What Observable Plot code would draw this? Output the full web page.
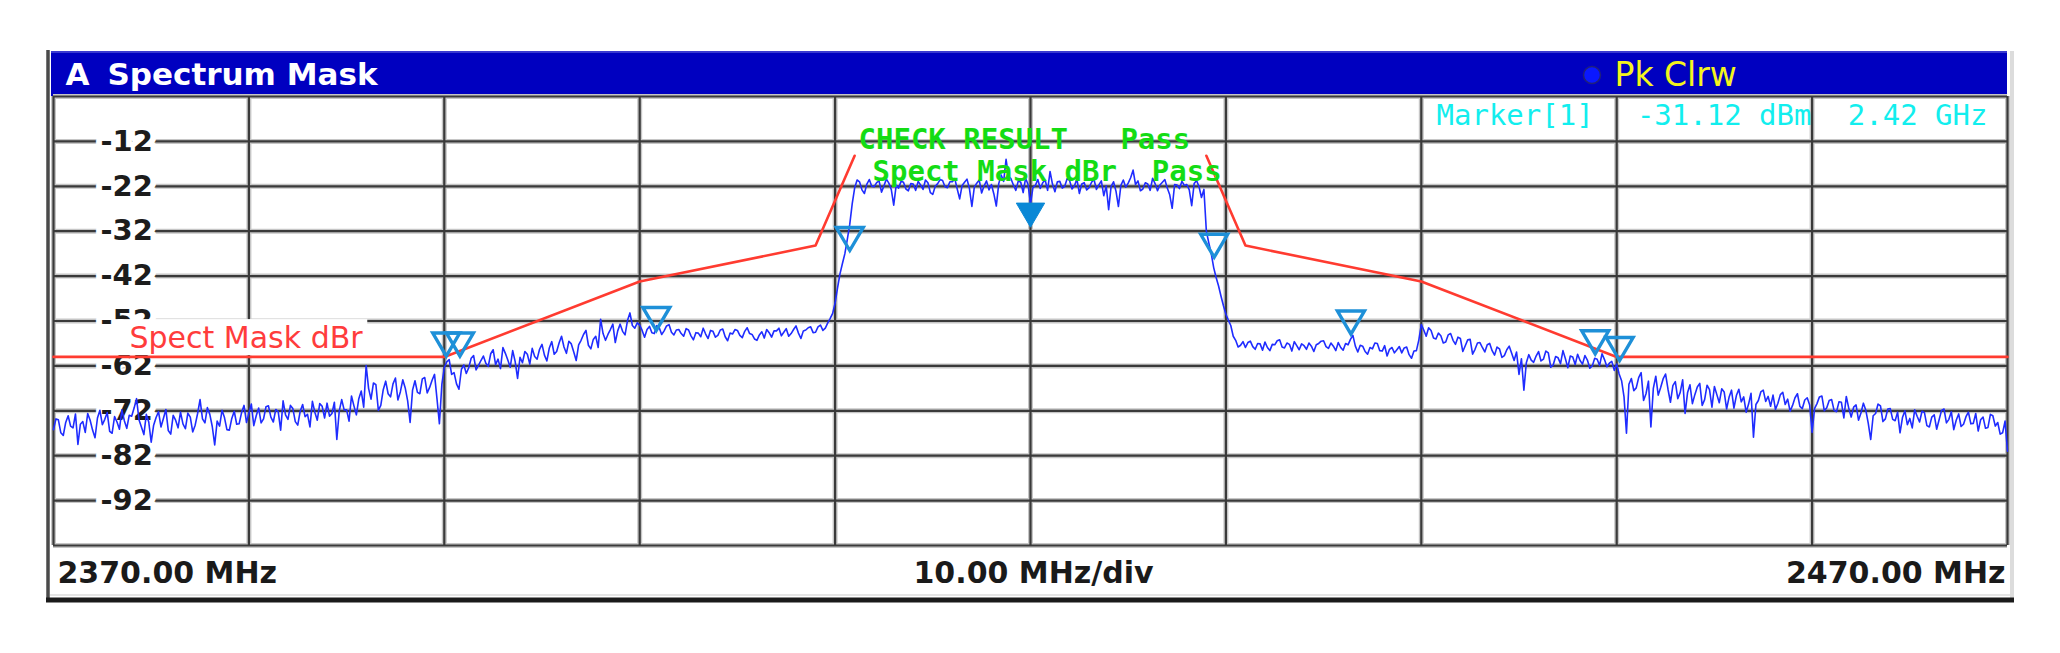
<!DOCTYPE html>
<html>
<head>
<meta charset="utf-8">
<script src="https://cdn.jsdelivr.net/npm/d3@7"></script>
<script src="https://cdn.jsdelivr.net/npm/@observablehq/plot@0.6"></script>
<style>
  html, body { margin: 0; padding: 0; background: #ffffff; }
  #chart { width: 2060px; height: 653px; }
</style>
</head>
<body>
<div id="chart"></div>
<script>
// ---------------- DATA ----------------
const sweepStartMHz = 2370;
const sweepStepMHz = 0.125;

// Trace levels (dBm), one per sweep point (8 per MHz)
const traceLevels = [
  -76.2, -73.8, -74.0, -76.9, -77.5, -74.6, -73.1, -75.4,
  -75.8, -72.7, -79.5, -75.0, -74.4, -76.8, -72.6, -74.1,
  -76.3, -78.0, -73.6, -71.9, -75.1, -73.9, -72.4, -76.6,
  -77.0, -73.3, -74.5, -76.1, -71.8, -74.2, -75.9, -73.0,
  -73.2, -71.4, -69.3, -74.0, -75.6, -77.3, -72.8, -74.5,
  -79.0, -75.2, -73.5, -72.2, -75.6, -73.7, -71.7, -76.4,
  -77.2, -73.0, -74.1, -75.8, -72.3, -74.9, -76.0, -72.5,
  -73.4, -76.7, -75.2, -72.6, -69.5, -73.8, -74.7, -71.3,
  -72.8, -75.5, -79.6, -74.3, -75.4, -71.9, -73.5, -76.2,
  -76.3, -73.7, -72.1, -75.0, -74.9, -72.4, -70.8, -74.6,
  -72.6, -70.5, -75.3, -73.1, -71.4, -74.7, -73.8, -71.1,
  -70.9, -73.4, -74.5, -71.7, -72.2, -76.3, -69.8, -72.9,
  -73.9, -70.8, -71.5, -74.4, -75.2, -72.1, -70.6, -73.3,
  -72.8, -75.6, -69.9, -72.3, -74.1, -70.4, -71.0, -73.6,
  -70.3, -73.2, -72.6, -70.1, -78.4, -72.0, -69.5, -71.8,
  -71.8, -74.3, -68.7, -70.9, -72.9, -69.3, -67.6, -71.2,
  -61.9, -67.0, -69.4, -65.8, -66.2, -71.9, -70.8, -67.3,
  -65.4, -68.2, -68.9, -66.0, -64.7, -69.6, -67.8, -65.1,
  -66.9, -69.8, -74.6, -67.4, -65.3, -67.9, -68.2, -64.9,
  -64.6, -68.0, -66.8, -65.2, -63.9, -69.3, -74.9, -66.1,
  -62.4, -61.1, -60.6, -63.9, -63.5, -66.0, -67.2, -62.8,
  -61.8, -63.7, -62.4, -60.3, -59.7, -62.9, -61.9, -60.8,
  -59.8, -61.4, -62.1, -59.3, -58.4, -61.7, -60.5, -62.6,
  -57.9, -59.2, -60.7, -62.3, -58.6, -61.0, -64.8, -60.1,
  -61.3, -58.8, -59.4, -61.6, -58.1, -59.9, -60.5, -58.3,
  -57.2, -59.6, -60.9, -58.0, -56.6, -59.4, -58.8, -56.9,
  -55.4, -57.8, -59.2, -56.5, -57.1, -58.9, -60.8, -57.3,
  -56.3, -55.0, -54.1, -57.4, -58.2, -56.1, -55.4, -57.9,
  -51.6, -54.8, -56.3, -55.0, -53.9, -52.7, -56.8, -54.2,
  -52.7, -54.3, -55.1, -51.9, -50.2, -53.0, -53.6, -52.4,
  -52.9, -54.1, -55.6, -53.9, -53.2, -54.6, -54.8, -53.0,
  -53.5, -55.0, -54.2, -53.1, -52.8, -54.5, -55.1, -54.0,
  -53.9, -54.8, -55.4, -53.7, -54.0, -55.3, -56.2, -54.6,
  -54.7, -55.5, -53.6, -54.9, -55.9, -54.1, -54.3, -55.6,
  -55.2, -54.0, -53.8, -55.5, -56.4, -54.7, -54.9, -53.9,
  -54.1, -55.2, -55.7, -54.3, -53.5, -54.8, -55.0, -56.0,
  -56.3, -55.1, -54.4, -55.8, -53.9, -54.6, -55.6, -54.2,
  -54.2, -53.6, -55.3, -54.5, -53.7, -55.4, -54.8, -53.9,
  -53.1, -54.7, -55.9, -54.2, -54.0, -53.5, -53.3, -54.6,
  -54.5, -53.3, -52.9, -54.1, -53.6, -52.4, -51.4, -50.3,
  -48.0, -44.6, -41.5, -39.2, -37.0, -33.8, -30.5, -25.9,
  -22.4, -20.6, -21.0, -22.8, -23.6, -21.5, -20.5, -22.0,
  -22.1, -21.2, -20.8, -23.3, -21.9, -20.4, -21.3, -22.7,
  -26.2, -21.8, -22.4, -20.9, -21.1, -22.6, -23.0, -21.4,
  -21.5, -22.9, -20.9, -21.7, -22.7, -20.6, -21.2, -23.4,
  -23.8, -22.0, -21.4, -20.5, -20.7, -22.1, -22.3, -21.0,
  -21.0, -20.3, -22.6, -24.8, -21.8, -21.1, -20.4, -22.5,
  -26.5, -22.2, -21.3, -20.6, -23.5, -21.9, -20.8, -22.8,
  -21.6, -23.7, -26.4, -21.4, -19.5, -20.9, -16.0, -19.8,
  -20.3, -21.7, -22.9, -20.8, -21.1, -23.4, -20.2, -21.6,
  -25.9, -22.3, -21.8, -20.5, -22.5, -21.2, -20.6, -22.9,
  -18.7, -21.5, -23.2, -21.0, -20.9, -22.4, -22.0, -20.3,
  -20.7, -22.6, -21.9, -20.4, -23.6, -21.5, -21.2, -22.8,
  -22.3, -21.1, -20.5, -22.7, -21.7, -20.8, -24.1, -21.9,
  -27.2, -22.0, -21.0, -23.1, -26.5, -21.8, -20.6, -22.2,
  -21.3, -20.1, -18.4, -21.6, -20.8, -23.0, -22.6, -21.2,
  -21.5, -22.9, -20.2, -21.4, -23.0, -21.7, -21.1, -20.5,
  -22.4, -23.9, -26.9, -21.6, -21.7, -22.5, -20.9, -21.8,
  -21.6, -22.8, -26.3, -21.4, -20.7, -22.1, -24.5, -22.7,
  -32.0, -34.6, -37.0, -40.1, -42.3, -44.2, -46.5, -48.6,
  -50.5, -51.8, -53.0, -55.4, -56.3, -57.8, -57.4, -56.6,
  -57.9, -56.8, -56.5, -57.7, -58.3, -57.0, -57.1, -58.5,
  -56.7, -57.9, -58.6, -57.2, -57.3, -56.4, -56.2, -57.8,
  -58.0, -56.9, -57.2, -58.7, -56.6, -57.5, -58.4, -57.1,
  -57.5, -58.3, -56.9, -57.6, -58.8, -57.3, -57.0, -56.5,
  -56.4, -57.7, -58.1, -56.9, -57.6, -58.6, -56.8, -57.9,
  -58.5, -57.0, -57.3, -56.1, -55.2, -57.6, -58.9, -57.4,
  -57.6, -58.8, -59.4, -57.9, -58.2, -56.9, -57.0, -58.6,
  -58.7, -57.5, -59.8, -58.3, -57.9, -59.1, -58.4, -57.7,
  -59.1, -58.0, -57.8, -59.5, -60.3, -58.7, -58.6, -56.2,
  -52.8, -54.0, -55.4, -53.5, -54.1, -55.8, -56.0, -54.7,
  -55.3, -56.9, -56.7, -55.1, -54.8, -56.3, -57.2, -55.6,
  -55.9, -58.8, -57.5, -56.2, -56.1, -59.4, -58.3, -56.9,
  -56.8, -57.9, -58.9, -57.3, -57.0, -58.6, -59.6, -57.8,
  -58.2, -60.1, -59.7, -58.4, -57.6, -59.2, -60.8, -58.9,
  -63.9, -60.4, -67.4, -61.3, -59.5, -60.7, -61.2, -59.8,
  -58.8, -60.9, -60.5, -58.7, -59.1, -62.3, -61.8, -59.9,
  -60.2, -61.5, -58.6, -60.4, -62.4, -59.8, -60.0, -61.7,
  -59.4, -60.8, -61.6, -59.7, -60.7, -62.5, -62.0, -60.3,
  -60.5, -61.9, -59.3, -60.6, -62.2, -61.4, -61.0, -63.0,
  -61.6, -63.8, -65.3, -68.9, -77.0, -66.1, -64.8, -67.5,
  -66.9, -64.6, -63.5, -69.7, -68.2, -65.4, -75.6, -67.0,
  -64.3, -68.5, -66.8, -64.9, -63.8, -67.2, -70.1, -66.4,
  -65.5, -69.3, -67.9, -65.1, -72.6, -68.0, -66.2, -70.4,
  -68.4, -66.7, -65.9, -70.8, -69.5, -66.3, -67.3, -71.2,
  -66.6, -68.4, -70.2, -67.1, -67.8, -71.6, -69.0, -67.4,
  -71.4, -68.6, -67.2, -70.0, -68.9, -72.3, -70.5, -68.1,
  -77.9, -70.6, -69.7, -67.8, -67.4, -69.9, -68.8, -71.0,
  -68.5, -71.7, -70.3, -68.4, -67.9, -70.6, -69.4, -72.1,
  -70.8, -69.1, -68.2, -71.0, -71.5, -69.6, -69.1, -70.7,
  -76.8, -71.5, -70.4, -68.9, -68.7, -72.0, -71.3, -69.7,
  -69.5, -71.9, -72.2, -70.0, -70.1, -73.6, -68.8, -71.4,
  -73.4, -71.2, -70.7, -74.1, -72.5, -70.3, -71.9, -74.8,
  -78.4, -73.1, -72.6, -70.5, -70.9, -74.4, -73.8, -71.6,
  -71.5, -73.9, -74.2, -72.3, -76.9, -73.5, -72.0, -75.1,
  -73.7, -75.8, -71.8, -73.2, -74.5, -72.1, -72.4, -75.3,
  -75.6, -73.4, -72.9, -76.1, -74.0, -71.9, -71.6, -74.7,
  -73.9, -72.2, -76.2, -74.1, -72.7, -75.5, -75.0, -73.3,
  -72.3, -74.9, -74.8, -72.6, -76.5, -74.0, -73.4, -75.9,
  -75.7, -72.8, -73.1, -75.4, -74.6, -77.2, -76.9, -74.3,
  -81.0
];

// Spectrum mask (dBm) - left and right limit lines
const maskLeftFreq   = [2370, 2390, 2400, 2409, 2411];
const maskLeftLevel  = [-60, -60, -43.2, -35.2, -15.2];
const maskRightFreq  = [2429, 2431, 2440, 2450, 2470];
const maskRightLevel = [-15.2, -35.2, -43.2, -60, -60];

// Range peak markers (hollow triangles): frequency (MHz), level (dBm) at the tip
const peakMarkerFreq  = [2390.1, 2390.8, 2400.85, 2410.75, 2429.4, 2436.4, 2448.9, 2450.15];
const peakMarkerLevel = [-59.8, -59.8, -54.1, -36.3, -37.8, -54.9, -59.3, -60.8];

// Marker 1 (filled triangle)
const marker1Freq = [2420];
const marker1Level = [-31.12];

// Axes / grid
const xGridMHz = [2370, 2380, 2390, 2400, 2410, 2420, 2430, 2440, 2450, 2460, 2470];
const yGridDb  = [-2, -12, -22, -32, -42, -52, -62, -72, -82, -92, -102];
const yTickLabels = [-12, -22, -32, -42, -52, -62, -72, -82, -92];

// Texts
const titleLetter = "A";
const titleText = "Spectrum Mask";
const traceLabel = "Pk Clrw";
const markerTexts = ["Marker[1]", "-31.12 dBm", "2.42 GHz"];
const checkLine1 = "CHECK RESULT\u00a0\u00a0\u00a0Pass";
const checkLine2 = "Spect Mask dBr\u00a0\u00a0Pass";
const maskLabel = "Spect Mask dBr";
const startLabel = "2370.00 MHz";
const spanLabel = "10.00 MHz/div";
const stopLabel = "2470.00 MHz";

// ---------------- BUILD ----------------
const traceData = traceLevels.map((v, i) => ({freq: sweepStartMHz + i * sweepStepMHz, level: v}));
const maskData = [
  ...maskLeftFreq.map((f, i) => ({freq: f, level: maskLeftLevel[i], side: "left"})),
  ...maskRightFreq.map((f, i) => ({freq: f, level: maskRightLevel[i], side: "right"}))
];
const peakData = peakMarkerFreq.map((f, i) => ({freq: f, level: peakMarkerLevel[i]}));
const m1Data = marker1Freq.map((f, i) => ({freq: f, level: marker1Level[i]}));

// downward triangle whose tip is at the data point
const downTip = {
  draw(context, size) {
    const r = Math.sqrt(size / Math.PI);
    const h = 2.3 * r, w = 2.7 * r;
    context.moveTo(0, 0);
    context.lineTo(-w / 2, -h);
    context.lineTo(w / 2, -h);
    context.closePath();
  }
};

const SANS = "'DejaVu Sans', sans-serif";
const MONO = "'DejaVu Sans Mono', monospace";

const ML = 53, MR = 53, MT = 96, MB = 108;

function label(str, opts) {
  return Plot.text([str], {text: d => d, lineAnchor: "middle", ...opts});
}

const svg = Plot.plot({
  width: 2060,
  height: 653,
  marginLeft: ML, marginRight: MR, marginTop: MT, marginBottom: MB,
  x: {domain: [2370, 2470], axis: null},
  y: {domain: [-102, -2], axis: null},
  style: {background: "#ffffff", overflow: "visible"},
  marks: [
    // grid
    Plot.ruleX(xGridMHz, {stroke: "#c6c6c6", strokeWidth: 5}),
    Plot.ruleY(yGridDb, {stroke: "#c6c6c6", strokeWidth: 5}),
    Plot.ruleX(xGridMHz, {stroke: "#3a3a3a", strokeWidth: 2.2}),
    Plot.ruleY(yGridDb, {stroke: "#3a3a3a", strokeWidth: 2.2}),
    // y tick labels
    Plot.text(yTickLabels, {
      y: d => d, text: d => String(d), frameAnchor: "left", dx: 47, textAnchor: "start", lineAnchor: "middle",
      fill: "#1c1c1c", stroke: "#ffffff", strokeWidth: 12,
      fontFamily: SANS, fontWeight: "bold", fontSize: 29
    }),
    // mask label
    label(maskLabel, {frameAnchor: "top-left", dx: 76, dy: 242, textAnchor: "start",
      fill: "#ff3c3c", fontFamily: SANS, fontSize: 30}),
    // marker info row
    label(markerTexts[0], {frameAnchor: "top-left", dx: 1383, dy: 19, textAnchor: "start",
      fill: "#12eeee", fontFamily: MONO, fontSize: 29}),
    label(markerTexts[1], {frameAnchor: "top-left", dx: 1758, dy: 19, textAnchor: "end",
      fill: "#12eeee", fontFamily: MONO, fontSize: 29}),
    label(markerTexts[2], {frameAnchor: "top-left", dx: 1934, dy: 19, textAnchor: "end",
      fill: "#12eeee", fontFamily: MONO, fontSize: 29}),
    // trace
    Plot.line(traceData, {x: "freq", y: "level", stroke: "#1f2cff", strokeWidth: 1.6}),
    // mask
    Plot.line(maskData, {x: "freq", y: "level", z: "side", stroke: "#ff3b30", strokeWidth: 2.6}),
    // markers
    Plot.dot(peakData, {x: "freq", y: "level", symbol: downTip, r: 10, stroke: "#1e90d8", strokeWidth: 3.4, fill: "none"}),
    Plot.dot(m1Data, {x: "freq", y: "level", symbol: downTip, r: 10.5, stroke: "#0a88d6", strokeWidth: 1, fill: "#0a88d6"}),
    // check result texts
    label(checkLine1, {frameAnchor: "top-left", dx: 805, dy: 43, textAnchor: "start",
      fill: "#14dc14", fontFamily: MONO, fontWeight: "bold", fontSize: 29}),
    label(checkLine2, {frameAnchor: "top-left", dx: 819, dy: 75, textAnchor: "start",
      fill: "#14dc14", fontFamily: MONO, fontWeight: "bold", fontSize: 29}),
    // title bar texts
    label(titleLetter, {frameAnchor: "top-left", dx: 12, dy: -21, textAnchor: "start",
      fill: "#ffffff", fontFamily: SANS, fontWeight: "bold", fontSize: 31}),
    label(titleText, {frameAnchor: "top-left", dx: 54, dy: -21, textAnchor: "start",
      fill: "#ffffff", fontFamily: SANS, fontWeight: "bold", fontSize: 31}),
    label(traceLabel, {frameAnchor: "top-left", dx: 1561, dy: -21, textAnchor: "start",
      fill: "#f4f41c", fontFamily: SANS, fontSize: 33}),
    // bottom labels
    label(startLabel, {frameAnchor: "bottom-left", dx: 4, dy: 28, textAnchor: "start",
      fill: "#1a1a1a", fontFamily: SANS, fontWeight: "bold", fontSize: 30}),
    label(spanLabel, {frameAnchor: "bottom", dx: 3, dy: 28, textAnchor: "middle",
      fill: "#1a1a1a", fontFamily: SANS, fontWeight: "bold", fontSize: 30}),
    label(stopLabel, {frameAnchor: "bottom-right", dx: -2, dy: 28, textAnchor: "end",
      fill: "#1a1a1a", fontFamily: SANS, fontWeight: "bold", fontSize: 30})
  ]
});

document.getElementById("chart").append(svg);

// ---------------- DECORATION (instrument frame) ----------------
const root = d3.select(svg);
const W = 2060, H = 653;
const plotRight = W - MR;
const deco = root.insert("g", ":first-child").attr("class", "frame-deco");
// title bar
deco.append("rect").attr("x", ML - 2).attr("y", 51).attr("width", plotRight - ML + 2).attr("height", MT - 51).attr("fill", "#0000c0");
deco.append("line").attr("x1", ML - 2).attr("x2", plotRight).attr("y1", 52).attr("y2", 52).attr("stroke", "#3a3ad0").attr("stroke-width", 2);

const overlay = root.append("g").attr("class", "frame-overlay");
// left frame line
overlay.append("line").attr("x1", 48).attr("x2", 48).attr("y1", 50).attr("y2", 602).attr("stroke", "#4a4a4a").attr("stroke-width", 3.5);
// right light edge
overlay.append("line").attr("x1", plotRight + 5).attr("x2", plotRight + 5).attr("y1", 51).attr("y2", 598).attr("stroke", "#dcdcdc").attr("stroke-width", 4);
// bottom dark edge
overlay.append("line").attr("x1", 46).attr("x2", plotRight + 7).attr("y1", 600).attr("y2", 600).attr("stroke", "#1a1a1a").attr("stroke-width", 5);
// light line below the label strip
overlay.append("line").attr("x1", 50).attr("x2", plotRight + 3).attr("y1", 595).attr("y2", 595).attr("stroke", "#e4e4e4").attr("stroke-width", 2);
// trace indicator circle in title bar
overlay.append("circle").attr("cx", 1592).attr("cy", 75).attr("r", 8.5).attr("fill", "#0a18ff").attr("stroke", "#20207a").attr("stroke-width", 1.5);

// white background box behind the mask label (same transform as the text)
root.selectAll("text").each(function () {
  if (this.textContent === maskLabel) {
    const b = this.getBBox();
    const rect = d3.select(this.parentNode).insert("rect", ":first-child")
      .attr("x", b.x - 16).attr("y", b.y - 1)
      .attr("width", b.width + 20).attr("height", b.height + 1)
      .attr("fill", "#ffffff");
    const tr = this.getAttribute("transform");
    if (tr) rect.attr("transform", tr);
  }
});
</script>
</body>
</html>
